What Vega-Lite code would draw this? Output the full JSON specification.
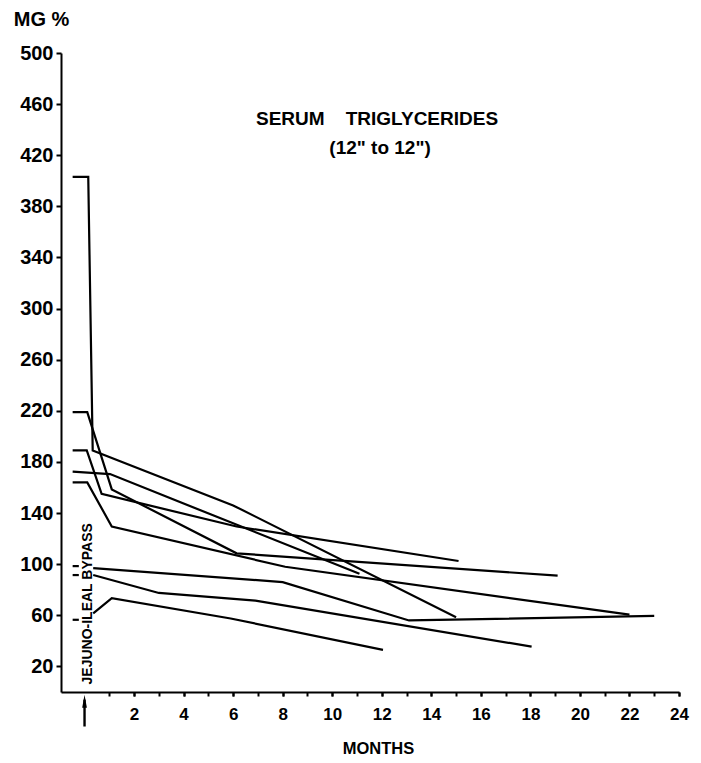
{
  "$schema": "https://vega.github.io/schema/vega-lite/v6.json",
  "width": 618,
  "height": 639,
  "autosize": {"type": "none"},
  "padding": {"left": 61, "top": 53, "right": 22, "bottom": 71},
  "background": "white",
  "config": {
    "view": {"stroke": null},
    "font": "Liberation Sans",
    "axis": {
      "grid": false,
      "domainColor": "black",
      "domainWidth": 2,
      "tickColor": "black",
      "tickWidth": 2,
      "labelColor": "black",
      "labelFont": "Liberation Sans",
      "labelFontWeight": "bold",
      "labelFlush": false,
      "labelOverlap": false,
      "labelBound": false,
      "titleFont": "Liberation Sans",
      "titleFontWeight": "bold",
      "titleColor": "black"
    }
  },
  "resolve": {"axis": {"x": "independent"}},
  "datasets": {
    "serum": [
      {"patient": "1", "month": -0.48, "mg": 403},
      {"patient": "1", "month": 0.15, "mg": 403},
      {"patient": "1", "month": 0.33, "mg": 189},
      {"patient": "1", "month": 6.0, "mg": 146},
      {"patient": "1", "month": 15.0, "mg": 58.5},

      {"patient": "2", "month": -0.48, "mg": 219},
      {"patient": "2", "month": 0.11, "mg": 219},
      {"patient": "2", "month": 1.1, "mg": 158.5},
      {"patient": "2", "month": 6.14, "mg": 108.5},
      {"patient": "2", "month": 19.1, "mg": 91},

      {"patient": "3", "month": -0.48, "mg": 189},
      {"patient": "3", "month": 0.09, "mg": 189},
      {"patient": "3", "month": 0.69, "mg": 155},
      {"patient": "3", "month": 6.14, "mg": 129.5},
      {"patient": "3", "month": 15.1, "mg": 102.5},

      {"patient": "4", "month": -0.48, "mg": 172.5},
      {"patient": "4", "month": 1.03, "mg": 170.5},
      {"patient": "4", "month": 11.1, "mg": 92.5},

      {"patient": "5", "month": -0.48, "mg": 164},
      {"patient": "5", "month": 0.11, "mg": 164},
      {"patient": "5", "month": 1.1, "mg": 129.5},
      {"patient": "5", "month": 8.1, "mg": 98},
      {"patient": "5", "month": 22.0, "mg": 60.5},

      {"patient": "6 pre", "month": -0.48, "mg": 98.5},
      {"patient": "6 pre", "month": -0.23, "mg": 98.5},
      {"patient": "6", "month": 0.35, "mg": 97},
      {"patient": "6", "month": 8.0, "mg": 86},
      {"patient": "6", "month": 13.1, "mg": 56},
      {"patient": "6", "month": 23.0, "mg": 59.5},

      {"patient": "7 pre", "month": -0.48, "mg": 91.5},
      {"patient": "7 pre", "month": -0.23, "mg": 91.5},
      {"patient": "7", "month": 0.35, "mg": 91.5},
      {"patient": "7", "month": 3.0, "mg": 77.5},
      {"patient": "7", "month": 6.9, "mg": 71.5},
      {"patient": "7", "month": 18.05, "mg": 35.5},

      {"patient": "8 pre", "month": -0.48, "mg": 56.5},
      {"patient": "8 pre", "month": -0.23, "mg": 56.5},
      {"patient": "8", "month": 0.35, "mg": 61.5},
      {"patient": "8", "month": 1.1, "mg": 73.5},
      {"patient": "8", "month": 5.9, "mg": 57.5},
      {"patient": "8", "month": 12.05, "mg": 33}
    ],
    "one": [{"n": 1}]
  },
  "layer": [
    {
      "data": {"name": "serum"},
      "mark": {"type": "line", "color": "black", "strokeWidth": 2.2, "strokeJoin": "miter"},
      "encoding": {
        "x": {
          "field": "month",
          "type": "quantitative",
          "scale": {"domain": [-0.95, 24], "nice": false, "zero": false},
          "axis": {
            "orient": "bottom",
            "title": "MONTHS",
            "values": [1, 2, 3, 4, 5, 6, 7, 8, 9, 10, 11, 12, 13, 14, 15, 16, 17, 18, 19, 20, 21, 22, 23, 24],
            "labels": false,
            "tickSize": 4,
            "titleFontSize": 16.5,
            "titleX": 317,
            "titleY": 56,
            "titleAlign": "center",
            "titleBaseline": "middle"
          }
        },
        "y": {
          "field": "mg",
          "type": "quantitative",
          "scale": {"domain": [0, 500], "nice": false},
          "axis": {
            "title": "MG %",
            "values": [20, 40, 60, 80, 100, 120, 140, 160, 180, 200, 220, 240, 260, 280, 300, 320, 340, 360, 380, 400, 420, 440, 460, 480, 500],
            "labelExpr": "(datum.value - 20) % 40 == 0 ? datum.label : ''",
            "tickSize": 5,
            "labelPadding": 3,
            "labelFontSize": 20,
            "titleAngle": 0,
            "titleFontSize": 20,
            "titleX": -20,
            "titleY": -34,
            "titleAlign": "center",
            "titleBaseline": "middle"
          }
        },
        "detail": {"field": "patient"}
      }
    },
    {
      "data": {"name": "one"},
      "mark": {"type": "rule", "color": "black", "strokeWidth": 2.4},
      "encoding": {
        "x": {
          "datum": 0,
          "type": "quantitative",
          "axis": {
            "orient": "bottom",
            "title": null,
            "values": [2, 4, 6, 8, 10, 12, 14, 16, 18, 20, 22, 24],
            "domain": false,
            "ticks": true,
            "tickSize": 4,
            "labelPadding": 10,
            "labelFontSize": 17
          }
        },
        "y": {"datum": -6, "type": "quantitative"},
        "y2": {"datum": -27}
      }
    },
    {
      "data": {"name": "one"},
      "mark": {"type": "point", "shape": "M-0.36,1L0,-1L0.36,1Z", "filled": true, "color": "black", "opacity": 1, "size": 170},
      "encoding": {
        "x": {"datum": 0, "type": "quantitative", "axis": null},
        "y": {"datum": -7.3, "type": "quantitative"}
      }
    },
    {
      "data": {"name": "one"},
      "mark": {"type": "text", "font": "Liberation Sans", "fontWeight": "bold", "fontSize": 14, "angle": 270, "align": "center", "baseline": "middle", "color": "black"},
      "encoding": {
        "x": {"datum": 0.12, "type": "quantitative", "axis": null},
        "y": {"datum": 69, "type": "quantitative"},
        "text": {"value": "JEJUNO-ILEAL BYPASS"}
      }
    },
    {
      "data": {"name": "one"},
      "mark": {"type": "text", "font": "Liberation Sans", "fontWeight": "bold", "fontSize": 19, "align": "center", "baseline": "middle", "color": "black"},
      "encoding": {
        "x": {"datum": 11.81, "type": "quantitative", "axis": null},
        "y": {"datum": 448, "type": "quantitative"},
        "text": {"value": "SERUM\u00a0\u00a0\u00a0\u00a0TRIGLYCERIDES"}
      }
    },
    {
      "data": {"name": "one"},
      "mark": {"type": "text", "font": "Liberation Sans", "fontWeight": "bold", "fontSize": 19, "align": "center", "baseline": "middle", "color": "black"},
      "encoding": {
        "x": {"datum": 11.93, "type": "quantitative", "axis": null},
        "y": {"datum": 426, "type": "quantitative"},
        "text": {"value": "(12\" to 12\")"}
      }
    }
  ]
}
